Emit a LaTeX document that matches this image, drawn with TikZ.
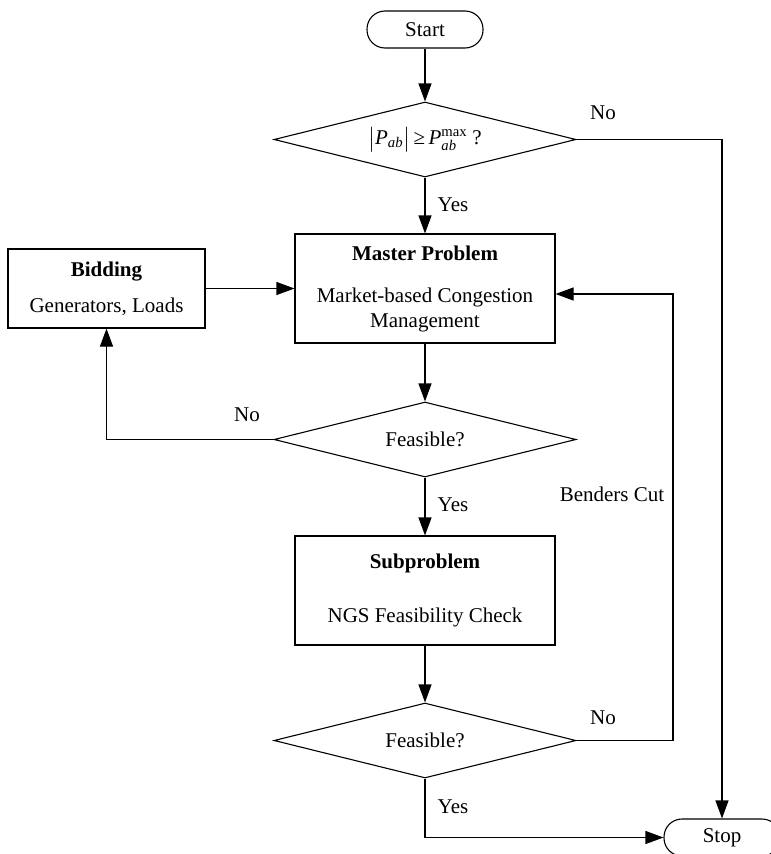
\documentclass[tikz,border=0pt]{standalone}
\usepackage{amsmath}
\usepackage{fontspec}
\setmainfont{Liberation Serif}
\usetikzlibrary{shapes.geometric,arrows.meta}

\begin{document}
\begin{tikzpicture}[x=1pt,y=-1pt,line width=1.1pt,
  font=\fontsize{21}{25}\selectfont,
  term/.style={draw,rectangle,rounded corners=18pt,minimum width=116pt,minimum height=37pt},
  proc/.style={draw,rectangle,align=center,minimum width=260pt,minimum height=109pt},
  dec/.style={draw,diamond,aspect=4,inner sep=0pt,minimum width=302pt,minimum height=75pt},
  lbl/.style={inner sep=0pt},
  arr/.style={-{Triangle[length=18pt,width=13pt]}}]
\useasboundingbox (0,0) rectangle (771,854);
\node[term] (start) at (425,29.5) {Start};
\node[dec] (dec1) at (425,139.5) {$\bigl|\textit{P}_{\textit{ab}}\bigr|$\,≥\,$\textit{P}_{\textit{ab}}^{\text{max}}$ ?};
\node[proc] (master) at (425,288.5) {\textbf{Master Problem}\\[17pt]Market-based Congestion\\Management};
\node[proc,minimum width=197pt,minimum height=79pt] (bidding) at (106.5,288.5) {\textbf{Bidding}\\[11pt]Generators, Loads};
\node[dec] (dec2) at (425,439.5) {Feasible?};
\node[proc] (sub) at (425,590.5) {\textbf{Subproblem}\\[29pt]NGS Feasibility Check};
\node[dec] (dec3) at (425,740.5) {Feasible?};
\node[term] (stop) at (722,837.5) {Stop};
\coordinate (bc) at (673,294);
% labels
\node[lbl] (no1) at (603,113) {No};
\node[lbl] (yes1) at (453,205) {Yes};
\node[lbl] (no2) at (247,415) {No};
\node[lbl] (yes2) at (453,505) {Yes};
\node[lbl] (cut) at (612,494) {Benders Cut};
\node[lbl] (no3) at (603,718) {No};
\node[lbl] (yes3) at (453,807) {Yes};
% connectors
\draw[arr] (start)--(dec1);
\draw[arr] (dec1)--(master);
\draw[arr] (dec1.east) -| (stop.north);
\draw[arr] (bidding)--(master);
\draw[arr] (master)--(dec2);
\draw[arr] (dec2.west) -| (bidding.south);
\draw[arr] (dec2)--(sub);
\draw[arr] (sub)--(dec3);
\draw[arr] (dec3.east) -| (bc) -- (master.east |- bc);
\draw[arr] (dec3.south) |- (stop.west);
\end{tikzpicture}
\end{document}
